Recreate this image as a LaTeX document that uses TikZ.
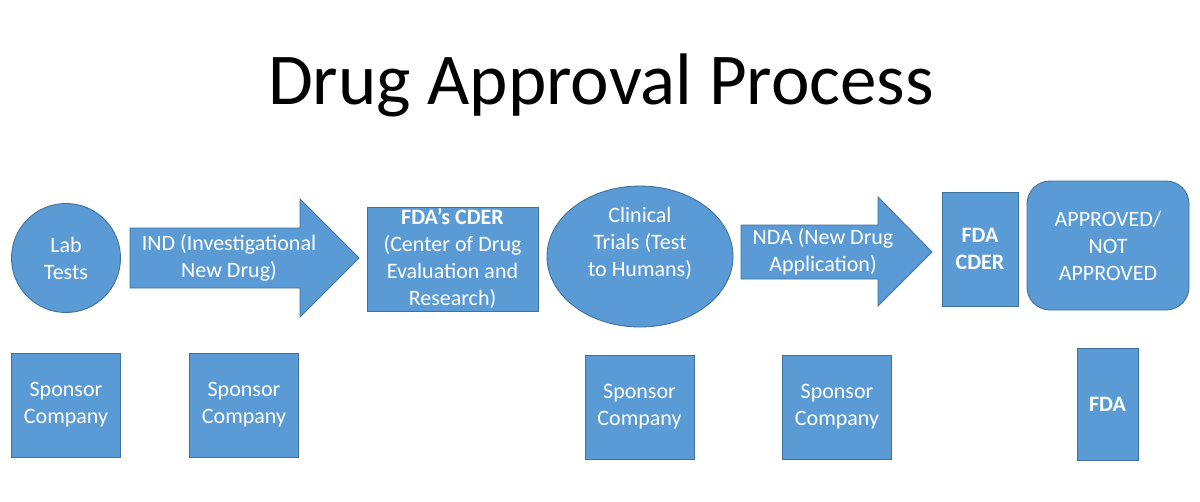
\documentclass[tikz,border=0pt]{standalone}
\usepackage{fontspec}
\setmainfont{Carlito}
\usetikzlibrary{shapes.geometric}
\definecolor{boxblue}{HTML}{5B9BD5}
\definecolor{boxline}{HTML}{41719C}
\newcommand{\bodysize}{\fontsize{22}{27}\selectfont}
\begin{document}
\begin{tikzpicture}[x=1pt,y=-1pt,
    blob/.style={fill=boxblue,draw=boxline,line width=0.9pt},
    words/.style={text=white,font=\bodysize,align=center,inner sep=0pt},
    blobtext/.style={blob,words},
    sponsorbox/.style={blobtext,rectangle,minimum width=109pt,minimum height=104pt}]
  \fill[white] (0,0) rectangle (1200,501);
  \useasboundingbox (0,0) rectangle (1200,501);
  % title
  \node[anchor=base,font=\fontsize{73}{88}\selectfont] (title) at (601,104) {Drug Approval Process};
  % top row
  \node[blobtext,circle,minimum size=109pt] (lab) at (66,258) {Lab\\Tests};
  \path[blob] (130,228) -- (300,228) -- (300,199) -- (359,258)
    -- (300,317) -- (300,288) -- (130,288) -- cycle;
  \node[words] (ind) at (229,258) {IND (Investigational\\New Drug)};
  \node[blobtext,rectangle,minimum width=171pt,minimum height=104pt] (cder) at (452.5,259)
    {\textbf{FDA’s CDER}\\(Center of Drug\\Evaluation and\\Research)};
  \node[blob,ellipse,minimum width=186pt,minimum height=141pt] (trials) at (640,256.5) {};
  \node[words] (trialstext) at (640,243) {Clinical\\Trials (Test\\to Humans)};
  \path[blob] (741,225) -- (878,225) -- (878,197) -- (932,252)
    -- (878,306) -- (878,279) -- (741,279) -- cycle;
  \node[words] (nda) at (823,252) {NDA (New Drug\\Application)};
  \node[blobtext,rectangle,minimum width=76pt,minimum height=114pt,font=\bodysize\bfseries]
    (fdacder) at (980,249) {FDA\\CDER};
  \node[blobtext,rectangle,rounded corners=23pt,minimum width=162pt,minimum height=129pt]
    (verdict) at (1108,245.5) {APPROVED/\\NOT\\APPROVED};
  % bottom row
  \node[sponsorbox] (sp1) at (66,405) {Sponsor\\Company};
  \node[sponsorbox] (sp2) at (244,405) {Sponsor\\Company};
  \node[sponsorbox] (sp3) at (639.5,407) {Sponsor\\Company};
  \node[sponsorbox] (sp4) at (837,407) {Sponsor\\Company};
  \node[blobtext,rectangle,minimum width=61pt,minimum height=112pt,font=\bodysize\bfseries]
    (fda) at (1107.5,404) {FDA};
\end{tikzpicture}
\end{document}
